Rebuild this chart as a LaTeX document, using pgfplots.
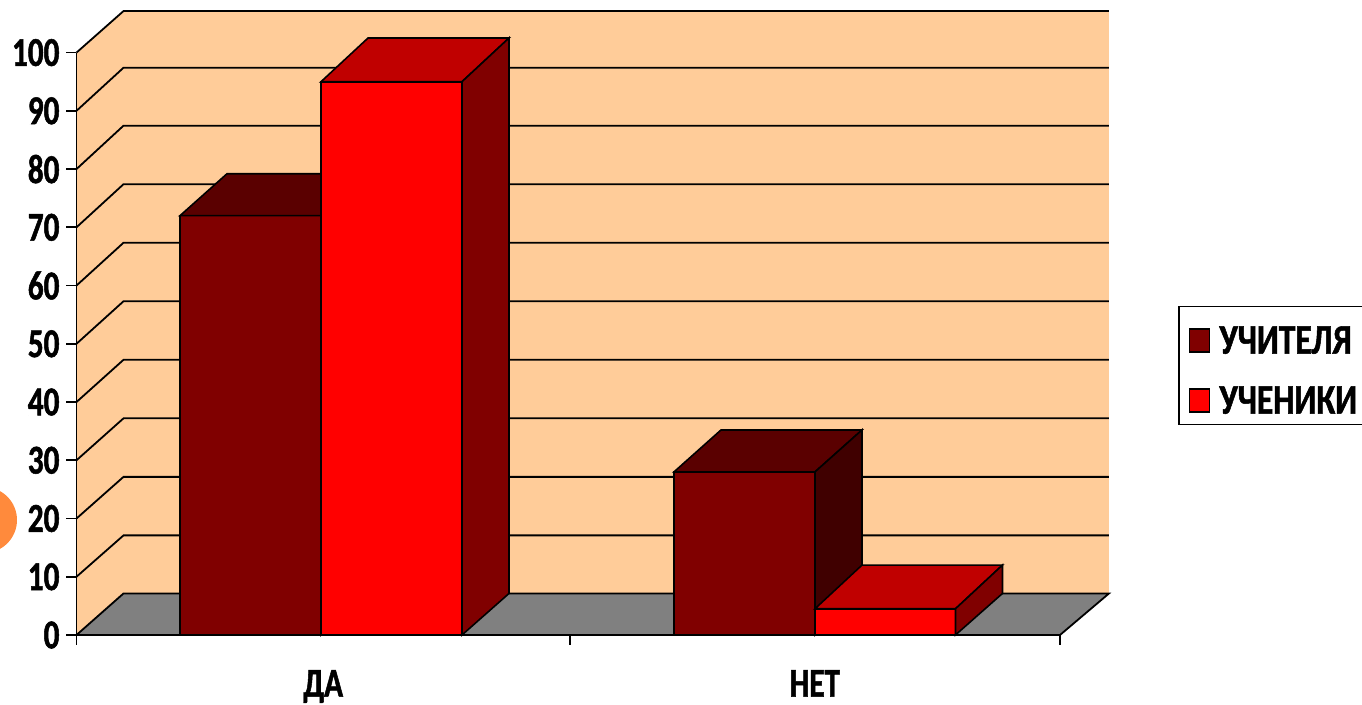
\documentclass[border=0pt]{standalone}
\usepackage{fontspec}
\setmainfont[FakeStretch=0.76,BoldFeatures={FakeBold=1.2}]{Carlito}
\newfontfamily\legfont[FakeStretch=0.8,BoldFeatures={FakeBold=1.2}]{Carlito}
\usepackage{pgfplots}
\pgfplotsset{compat=1.18}

\definecolor{wall}{HTML}{FFCC99}
\definecolor{floorgrey}{HTML}{808080}
\definecolor{tfront}{HTML}{800000}
\definecolor{ttop}{HTML}{5A0000}
\definecolor{tside}{HTML}{400000}
\definecolor{sfront}{HTML}{FF0000}
\definecolor{stop}{HTML}{C00000}
\definecolor{sside}{HTML}{800000}

% depth of the fake 3d box, in axis units
\newcommand\dx{0.0956}
\newcommand\dy{7.13}

% #1 left, #2 right, #3 value, #4 front, #5 top, #6 side, #7 depth of the top
\newcommand\boxbar[7]{%
  \pgfmathsetmacro\lx{#1+\dx}%
  \pgfmathsetmacro\rx{#2+\dx}%
  \pgfmathsetmacro\ty{#3+#7}%
  \addplot[forget plot,fill=#4,draw=black,line width=0.8pt] coordinates {(#1,0) (#2,0) (#2,#3) (#1,#3)} -- cycle;
  \addplot[forget plot,fill=#5,draw=black,line width=0.8pt] coordinates {(#1,#3) (#2,#3) (\rx,\ty) (\lx,\ty)} -- cycle;
  \addplot[forget plot,fill=#6,draw=black,line width=0.8pt] coordinates {(#2,0) (\rx,\dy) (\rx,\ty) (#2,#3)} -- cycle;
}

\begin{document}
\begin{tikzpicture}[x=1pt,y=1pt]
\useasboundingbox (-38.25,-35) rectangle (642.75,317.5);
\begin{scope}
  \clip (-38.25,-35) rectangle (642.75,317.5);
  \fill[color={rgb,255:red,255;green,138;blue,60}] (-46.25,57.5) circle (16.5);
\end{scope}
\begin{axis}[
  at={(0,0)},anchor=origin,
  scale only axis,
  width=491.75pt,height=291.2pt,
  xmin=0,xmax=2,ymin=0,ymax=100,
  clip=false,
  axis on top,
  axis x line=bottom,axis y line=left,
  axis line style={-,line width=0.9pt},
  tick style={black,line width=0.9pt},
  tick align=outside,
  major tick length=5pt,
  xtick={0,1.003,2},
  x tick label as interval,
  xticklabels={ДА,НЕТ},
  ytick={0,10,...,100},
  xticklabel style={yshift=-9pt},
  /pgf/number format/assume math mode=true,
  tick label style={font=\fontsize{20.5}{22}\selectfont\bfseries},
  legend style={at={(1.12,0.5653)},anchor=north west,draw=black,line width=0.8pt,
    font=\fontsize{21}{23}\legfont\bfseries,row sep=5pt,inner xsep=5pt,inner ysep=2pt,
    nodes={text height=19.5pt}},
  legend cell align=left,
  legend image code/.code={\draw[#1,line width=0.8pt] (0pt,-8.25pt) rectangle (10pt,3.25pt);\path (12.5pt,0pt);},
]
% walls and floor
\addplot[forget plot,fill=wall,draw=none] coordinates {(0,0) (0.0956,7.13) (2.0996,7.13) (2.0996,107.13) (0.0956,107.13) (0,100)} -- cycle;
\addplot[forget plot,fill=floorgrey,draw=black,line width=0.9pt] coordinates {(0,0) (0.0956,7.13) (2.0996,7.13) (2,0)} -- cycle;
% grid lines, front edge up to the back wall
\addplot[forget plot,black,line width=0.9pt,unbounded coords=jump] coordinates {
  (0,10) (0.0956,17.1) (2.0996,17.1) (nan,nan)
  (0,20) (0.0956,27.15) (2.0996,27.15) (nan,nan)
  (0,30) (0.0956,37.2) (2.0996,37.2) (nan,nan)
  (0,40) (0.0956,47.25) (2.0996,47.25) (nan,nan)
  (0,50) (0.0956,57.3) (2.0996,57.3) (nan,nan)
  (0,60) (0.0956,67.35) (2.0996,67.35) (nan,nan)
  (0,70) (0.0956,77.4) (2.0996,77.4) (nan,nan)
  (0,80) (0.0956,87.45) (2.0996,87.45) (nan,nan)
  (0,90) (0.0956,97.4) (2.0996,97.4) (nan,nan)
  (0,100) (0.0956,107.13) (2.0996,107.13)
};
% bars
\boxbar{0.2105}{0.4972}{72}{tfront}{ttop}{tside}{7.2}
\boxbar{0.4972}{0.7839}{95}{sfront}{stop}{sside}{7.5}
\boxbar{1.2150}{1.5017}{28}{tfront}{ttop}{tside}{7.2}
\boxbar{1.5017}{1.7874}{4.5}{sfront}{stop}{sside}{7.5}
\addlegendimage{fill=tfront,draw=black}
\addlegendentry{УЧИТЕЛЯ}
\addlegendimage{fill=sfront,draw=black}
\addlegendentry{УЧЕНИКИ}
\end{axis}
\end{tikzpicture}
\end{document}
